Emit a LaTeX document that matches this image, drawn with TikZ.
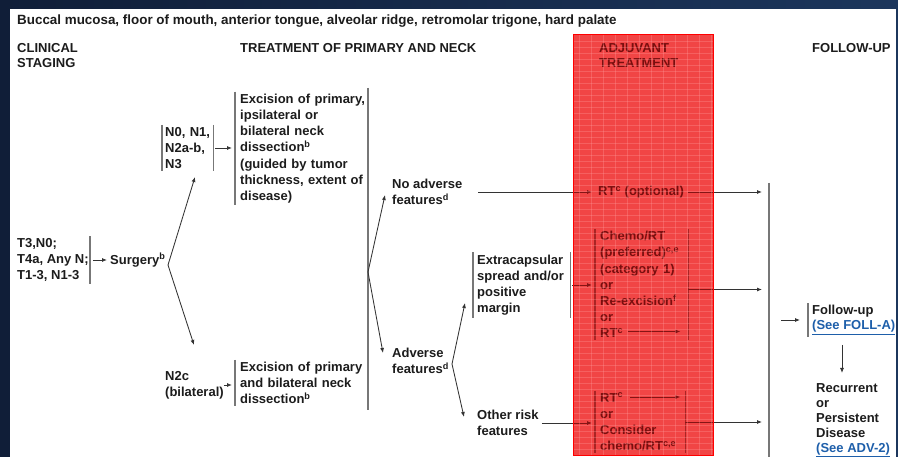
\documentclass[tikz,border=0pt]{standalone}
\usepackage{fontspec}
\setmainfont{Liberation Sans}
\usetikzlibrary{arrows.meta}

\definecolor{navy}{RGB}{16,30,56}
\definecolor{navyl}{RGB}{28,54,92}
\definecolor{ink}{RGB}{28,28,28}
\definecolor{linkblue}{RGB}{30,95,170}
\definecolor{hilite}{RGB}{238,18,18}
\definecolor{hiline}{RGB}{255,160,160}

\newcommand{\sps}[1]{\textsuperscript{#1}}

\begin{document}
\begin{tikzpicture}[x=1pt,y=-1pt,
    every node/.style={font=\bfseries\fontsize{13}{16.2}\selectfont, text=ink, align=left, inner sep=0pt, anchor=west},
    head/.style={font=\bfseries\fontsize{13}{15}\selectfont},
    box/.style={inner xsep=#1, inner ysep=2pt},
    box/.default=4pt,
    bar/.style={draw=ink!60, line width=1.3pt},
    arr/.style={draw=ink!90, line width=0.85pt, -{Latex[length=5pt,width=4pt]}},
    gridline/.style={draw=hiline, line width=0.5pt, opacity=0.3},
]
    \useasboundingbox (0,0) rectangle (898,457);
    \shade[left color=navy, right color=navyl] (0,0) rectangle (898,457);
    \fill[white] (10,9) rectangle (896,457);

    % headings
    \node (title) [font=\bfseries\fontsize{13.4}{16}\selectfont] at (17,21) {Buccal mucosa, floor of mouth, anterior tongue, alveolar ridge, retromolar trigone, hard palate};
    \node (clin) [head] at (17,56) {CLINICAL\\STAGING};
    \node (trt) [head] at (240,48) {TREATMENT OF PRIMARY AND NECK};
    \node (adj) [head] at (599,56) {ADJUVANT\\TREATMENT};
    \node (fol) [head] at (812,48) {FOLLOW-UP};

    % staging and surgery
    \node (stage) [box=1pt] at (16,260) {T3,N0;\\T4a, Any N;\\T1-3, N1-3};
    \node (surg) [inner xsep=3pt] at (107,260) {Surgery\sps{b}};
    \coordinate (s1) at (168,265);

    \node (nn) [box=3pt, text width=45pt] at (162,148) {N0, N1,\\N2a-b,\\N3};
    \node (ex1) [box=5pt, text width=128pt] at (235,148.5) {Excision of primary,\\ipsilateral or\\bilateral neck\\dissection\sps{b}\\(guided by tumor\\thickness, extent of\\disease)};
    \node (n2c) [inner xsep=3pt] at (162,385) {N2c\\(bilateral)};
    \node (ex2) [box=5pt, text width=125pt] at (235,383) {Excision of primary\\and bilateral neck\\dissection\sps{b}};

    % pathology after surgery
    \coordinate (jt) at (368,88);
    \coordinate (jb) at (368,410);
    \coordinate (s2) at (368,272);
    \node (noadv) at (392,192) {No adverse\\features\sps{d}};
    \node (adv) at (392,361) {Adverse\\features\sps{d}};
    \coordinate (s3) at (452,364);
    \node (ecs) [box=4pt, text width=89pt] at (473,285) {Extracapsular\\spread and/or\\positive\\margin};
    \node (other) at (477,423) {Other risk\\features};

    % adjuvant column
    \node (rt1) at (598,192) {RT\sps{c} (optional)};
    \node (chemo) [box=5pt, text width=83pt] at (595,284.5) {Chemo/RT\\(preferred)\sps{c,e}\\(category 1)\\or\\Re-excision\sps{f}\\or\\RT\sps{c}};
    \node (rt2) [box=5pt, text width=80pt] at (595,422) {RT\sps{c}\\or\\Consider\\chemo/RT\sps{c,e}};

    % follow-up
    \coordinate (vt) at (769,183);
    \coordinate (vb) at (769,457);
    \node (fu) [box=4pt, head] at (808,320) {Follow-up\\{\color{linkblue}\underline{(See FOLL-A)}}};
    \node (rec) [head] at (816,420) {Recurrent\\or\\Persistent\\Disease\\{\color{linkblue}\underline{(See ADV-2)}}};

    % bars
    \draw[bar] (stage.north east) -- (stage.south east);
    \draw[bar] (nn.north west) -- (nn.south west) (nn.north east) -- (nn.south east);
    \draw[bar] (ex1.north west) -- (ex1.south west);
    \draw[bar] (ex2.north west) -- (ex2.south west);
    \draw[bar] (jt) -- (jb);
    \draw[bar] (ecs.north west) -- (ecs.south west) (ecs.north east) -- (ecs.south east);
    \draw[bar] (chemo.north west) -- (chemo.south west) (chemo.north east) -- (chemo.south east);
    \draw[bar] (rt2.north west) -- (rt2.south west) (rt2.north east) -- (rt2.south east);
    \draw[bar] (vt) -- (vb);
    \draw[bar] (fu.north west) -- (fu.south west);

    % arrows
    \draw[arr, shorten <=3pt] (stage.east) -- (surg.west);
    \draw[arr] (s1) -- ([shift={(33,29)}]nn.west);
    \draw[arr] (s1) -- ([shift={(32,-40)}]n2c.west);
    \draw[arr, shorten <=2pt, shorten >=3pt] (nn.east) -- (nn.east -| ex1.west);
    \draw[arr, shorten <=-3pt, shorten >=3pt] (n2c.east) -- (n2c.east -| ex2.west);
    \draw[arr] (s2) -- ([shift={(-7,3)}]noadv.west);
    \draw[arr] (s2) -- ([shift={(-9,-8)}]adv.west);
    \draw[arr] (s3) -- ([shift={(-8,18)}]ecs.west);
    \draw[arr] (s3) -- ([shift={(-13,-6)}]other.west);
    \draw[arr, shorten <=16pt, shorten >=6pt] (noadv.east) -- (noadv.east -| rt1.west);
    \draw[arr, shorten <=4pt, shorten >=7pt] (rt1.east) -- (rt1.east -| vt);
    \draw[arr, shorten <=2pt, shorten >=3pt] (ecs.east) -- (ecs.east -| chemo.west);
    \draw[arr] ([shift={(33,47)}]chemo.west) -- ([shift={(-8,47)}]chemo.east);
    \draw[arr, shorten >=7pt] ([shift={(0,5)}]chemo.east) -- ([shift={(0,5)}]chemo.east -| vt);
    \draw[arr, shorten <=3pt, shorten >=3pt] (other.east) -- (other.east -| rt2.west);
    \draw[arr] ([shift={(35,-25)}]rt2.west) -- ([shift={(-5,-25)}]rt2.east);
    \draw[arr, shorten >=7pt] (rt2.east) -- (rt2.east -| vt);
    \draw[arr, shorten <=12pt, shorten >=8pt] (fu.west -| vt) -- (fu.west);
    \draw[arr] ([shift={(34,25)}]fu.west) -- ([shift={(26,-47)}]rec.west);

    % marker over the adjuvant column
    \fill[hilite, blend mode=multiply, fill opacity=0.6] (573,35) rectangle (713,455);
    \fill[hilite, fill opacity=0.45] (573,35) rectangle (713,455);
    \foreach \gx in {579,591,...,711}
        \draw[gridline] (\gx,35) -- (\gx,455);
    \foreach \gy in {41,47,...,453}
        \draw[gridline] (573,\gy) -- (713,\gy);
    \draw[red, line width=1pt] (573,35) rectangle (713,455);
\end{tikzpicture}
\end{document}
